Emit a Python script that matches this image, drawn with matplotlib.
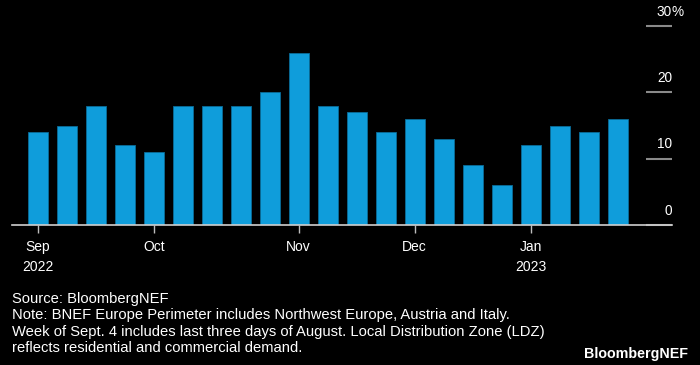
import matplotlib.pyplot as plt
import matplotlib.transforms as mtransforms

# weekly share, % (weeks starting Sunday, Sep 4 2022 .. Jan 22 2023)
weeks = ["2022-09-04", "2022-09-11", "2022-09-18", "2022-09-25", "2022-10-02",
         "2022-10-09", "2022-10-16", "2022-10-23", "2022-10-30", "2022-11-06",
         "2022-11-13", "2022-11-20", "2022-11-27", "2022-12-04", "2022-12-11",
         "2022-12-18", "2022-12-25", "2023-01-01", "2023-01-08", "2023-01-15",
         "2023-01-22"]
values = [14, 15, 18, 12, 11, 18, 18, 18, 20, 26, 18, 17, 14, 16, 13, 9, 6, 12, 15, 14, 16]

tick_idx = [0, 4, 9, 13, 17]
tick_labels = ["Sep\n2022", "Oct", "Nov", "Dec", "Jan\n2023"]
y_ticks = [0, 10, 20, 30]
y_labels = ["0", "10", "20", "30"]

note_lines = ["Source: BloombergNEF",
              "Note: BNEF Europe Perimeter includes Northwest Europe, Austria and Italy.",
              "Week of Sept. 4 includes last three days of August. Local Distribution Zone (LDZ)",
              "reflects residential and commercial demand."]

plt.rcParams["font.family"] = ["Liberation Sans", "DejaVu Sans"]

fig = plt.figure(figsize=(7, 3.65), dpi=100)
fig.patch.set_facecolor("black")
ax = fig.add_axes([12 / 700, 140 / 365, 660 / 700, 199 / 365])
ax.set_facecolor("black")

x = list(range(len(values)))
ax.bar(x, values, width=0.69, color="#0f9ddb", edgecolor="#0a6d99", linewidth=0.6, zorder=2)

ax.set_xlim(-0.886, 21.87)
ax.set_ylim(0, 30)

for s in ["top", "left", "right"]:
    ax.spines[s].set_visible(False)
ax.spines["bottom"].set_color("#cfcfcf")
ax.spines["bottom"].set_linewidth(1.2)
ax.spines["bottom"].set_zorder(3)

ax.set_xticks(tick_idx)
ax.set_xticklabels(tick_labels, fontsize=10, color="white", linespacing=1.5)
ax.tick_params(axis="x", length=6, width=1, color="#bdbdbd", pad=5)

# y axis: short marks at right edge, labels sitting above them
ax.set_yticks(y_ticks)
ax.set_yticklabels([])
ax.tick_params(axis="y", left=False, right=True, direction="in", length=19,
               width=1.5, color="#8a8a8a")
trans = mtransforms.blended_transform_factory(ax.transAxes, ax.transData)
up = mtransforms.ScaledTranslation(0, 7.5 / 72, fig.dpi_scale_trans)
for v, lab in zip(y_ticks, y_labels):
    ax.text(1.0, v, lab, transform=trans + up, ha="right", va="baseline",
            fontsize=9.8, color="white")
ax.text(1.0, 30, "%", transform=trans + up, ha="left", va="baseline",
        fontsize=9.8, color="white")

# footer
for i, line in enumerate(note_lines):
    fig.text(12 / 700, 1 - (303.3 + 16.2 * i) / 365, line, ha="left", va="baseline",
             fontsize=10.6, color="white")
fig.text(688 / 700, 1 - 357.7 / 365, "BloombergNEF", ha="right", va="baseline",
         fontsize=10.3, color="white", fontweight="bold")

fig.savefig("out.png", dpi=100, facecolor="black")
